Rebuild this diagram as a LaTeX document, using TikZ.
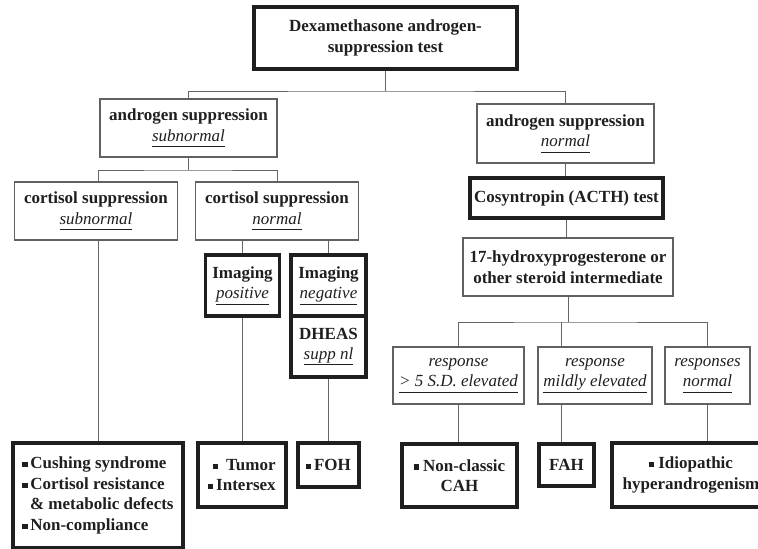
\documentclass[tikz,border=0pt]{standalone}
\usepackage{fontspec}
\setmainfont{Liberation Serif}
\newcommand\sqb{\rule[0.2ex]{0.3em}{0.3em}}
\newcommand\ulit[1]{\underline{\textit{#1}\vphantom{g}}}
\tikzset{
  box/.style={rectangle, inner sep=0pt, align=center, text=black!88,
    font=\fontsize{17}{20.5}\selectfont\bfseries},
  thinbox/.style={box, draw=black!62, line width=1.2pt},
  thickbox/.style={box, draw=black!88, line width=3.4pt},
  link/.style={draw=black!60, line width=0.9pt},
}
\begin{document}
\begin{tikzpicture}[x=1pt,y=-1pt]
\useasboundingbox (0,0) rectangle (758,549);
% nodes
\node[thickbox, minimum width=263pt, minimum height=62pt] (top) at (385.5,38) {Dexamethasone androgen-\\suppression test};
\node[thinbox, minimum width=177pt, minimum height=58pt] (as) at (188.5,128) {androgen suppression\\\mdseries\ulit{subnormal}};
\node[thinbox, minimum width=177pt, minimum height=59pt] (an) at (565.5,133.5) {androgen suppression\\\mdseries\ulit{normal}};
\node[thinbox, minimum width=163pt, minimum height=58pt] (cs) at (96,211) {cortisol suppression\\\mdseries\ulit{subnormal}};
\node[thinbox, minimum width=163pt, minimum height=58pt] (cn) at (277,211) {cortisol suppression\\\mdseries\ulit{normal}};
\node[thickbox, minimum width=74pt, minimum height=61pt] (ip) at (242.5,285.5) {Imaging\\\mdseries\ulit{positive}};
\node[thickbox, minimum width=75pt, minimum height=61pt] (in) at (328.5,285.5) {Imaging\\\mdseries\ulit{negative}};
\node[thickbox, minimum width=75pt, minimum height=61pt] (dh) at (328.5,346.5) {DHEAS\\\mdseries\ulit{supp nl}};
\node[thickbox, minimum width=170pt, minimum height=105pt, align=left] (cu) at (98,495.5)
  {\sqb\,Cushing syndrome\\\sqb\,Cortisol resistance\\\hspace{0.45em}\& metabolic defects\\\sqb\,Non-compliance};
\node[thickbox, minimum width=88pt, minimum height=64pt, align=left] (tu) at (242,475) {\hspace{0.25em}\sqb\ \ Tumor\\\sqb\,Intersex};
\node[thickbox, minimum width=61pt, minimum height=44pt] (fo) at (328.5,465) {\sqb\,FOH};
\node[thickbox, minimum width=193pt, minimum height=40pt] (co) at (566.5,198) {Cosyntropin (ACTH) test};
\node[thinbox, minimum width=210pt, minimum height=58pt] (hy) at (568,267) {17-hydroxyprogesterone or\\other steroid intermediate};
\node[thinbox, minimum width=131pt, minimum height=57pt] (r1) at (458.5,375.5) {\mdseries\itshape response\\\mdseries\ulit{> 5 S.D. elevated}};
\node[thinbox, minimum width=114pt, minimum height=57pt] (r2) at (595,375.5) {\mdseries\itshape response\\\mdseries\ulit{mildly elevated}};
\node[thinbox, minimum width=85pt, minimum height=57pt] (r3) at (707.5,375.5) {\mdseries\itshape responses\\\mdseries\ulit{normal}};
\node[thickbox, minimum width=115pt, minimum height=63pt] (nc) at (459.5,475.5) {\sqb\ Non-classic\\CAH};
\node[thickbox, minimum width=55pt, minimum height=42pt] (fa) at (566.5,465) {FAH};
\node[thickbox, minimum width=158pt, minimum height=64pt] (id) at (691,475) {\sqb\ Idiopathic\\hyperandrogenism};
% junctions
\coordinate (j1) at (385.5,91);
\coordinate (j2) at (188.5,170);
\coordinate (j3) at (568,322);
\coordinate (k2) at (561,322);
% connectors
\draw[link] (top.south) -- (j1);
\draw[link] (as.north) |- (j1) -| (an.north);
\draw[link] (as.south) -- (j2);
\draw[link] (cs.north -| cu.north) |- (j2) -| (cn.north);
\draw[link] (cs.south -| cu.north) -- (cu.north);
\draw[link] (ip.north) -- (ip.north |- cn.south);
\draw[link] (in.north) -- (in.north |- cn.south);
\draw[link] (ip.south) -- (tu.north -| ip.south);
\draw[link] (dh.south) -- (fo.north -| dh.south);
\draw[link] (an.south) -- (co.north -| an.south);
\draw[link] (co.south) -- (hy.north -| co.south);
\draw[link] (hy.south) -- (j3);
\draw[link] (r1.north) |- (j3) -| (r3.north);
\draw[link] (k2) -- (k2 |- r2.north);
\draw[link] (r1.south) -- (nc.north -| r1.south);
\draw[link] (r2.south -| k2) -- (fa.north -| k2);
\draw[link] (r3.south) -- (id.north -| r3.south);
\end{tikzpicture}
\end{document}
